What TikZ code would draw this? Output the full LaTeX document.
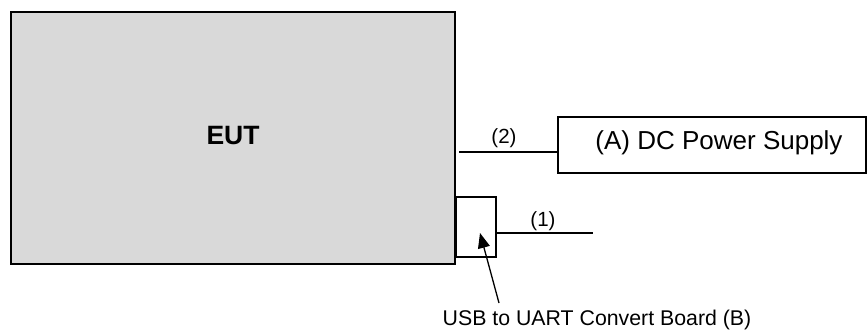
\documentclass[tikz,border=0pt]{standalone}
\usepackage{fontspec}
\setmainfont{Liberation Sans}
\usetikzlibrary{arrows.meta}
\begin{document}
\begin{tikzpicture}[x=1pt,y=-1pt,
  box/.style={draw=black,line width=1.5pt,inner sep=0pt,outer sep=0pt},
  wire/.style={draw=black,line width=1.3pt},
  lbl/.style={inner sep=0pt,font=\fontsize{20.5}{24}\selectfont},
  big/.style={inner sep=0pt,font=\fontsize{26}{30}\selectfont}]
\useasboundingbox (0,0) rectangle (867,331);
\node[box,fill={rgb,255:red,217;green,217;blue,217},minimum width=444pt,minimum height=252pt] (eut) at (233,138) {};
\node[big,font=\fontsize{26.5}{30}\selectfont\bfseries] (eutt) at (233,136) {EUT};
\node[box,fill=white,minimum width=308pt,minimum height=56pt] (psu) at (712,145) {};
\node[big] (psut) at (719,143) {(A) DC Power Supply};
\node[box,fill=white,minimum width=40pt,minimum height=60pt] (usb) at (476,227) {};
\coordinate (c2) at (459,152);
\coordinate (c1) at (593,233);
\draw[wire] (c2) -- (c2 -| psu.west);
\draw[wire] (usb.east |- c1) -- (c1);
\node[lbl] (l2) at (504,138) {(2)};
\node[lbl] (l1) at (543,221) {(1)};
\node[inner sep=0pt,font=\fontsize{21.3}{25}\selectfont] (usbt) at (597,320) {USB to UART Convert Board (B)};
\coordinate (tail) at (499,303);
\coordinate (tip) at (480,233);
\draw[line width=1.3pt,-{Triangle[length=15pt,width=12pt]}] (tail) -- (tip);
\end{tikzpicture}
\end{document}
